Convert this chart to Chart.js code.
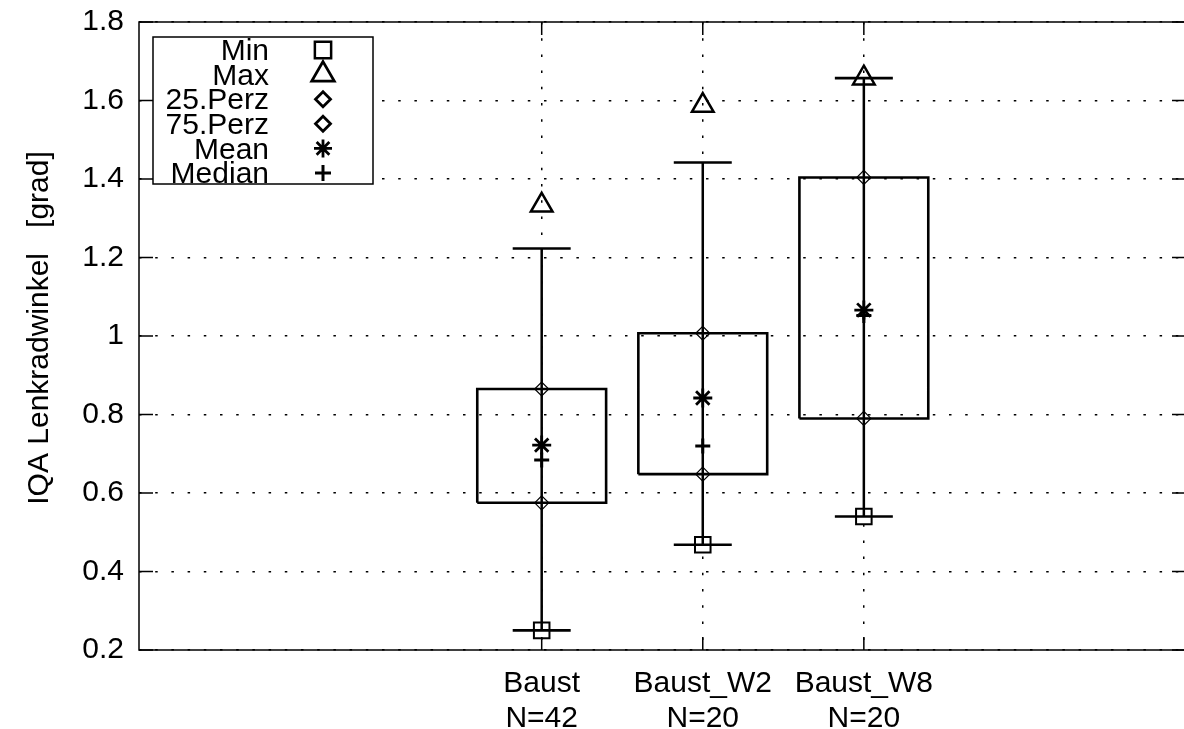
<!doctype html>
<html>
<head>
<meta charset="utf-8" />
<title>IQA Lenkradwinkel</title>
<script src="https://cdn.jsdelivr.net/npm/chart.js"></script>
<style>
  body { margin: 0; background: #fff; }
  #frame { width: 1184px; height: 729px; overflow: hidden; }
  #iqaChart { display: block; }
</style>
</head>
<body>
<div id="frame"><canvas id="iqaChart" width="1190" height="729"></canvas></div>
<script>
  // group statistics per condition
  const categories = ['Baust', 'Baust_W2', 'Baust_W8'];
  const counts = [42, 20, 20];
  const minVals = [0.25, 0.468, 0.54];
  const maxVals = [1.333, 1.587, 1.657];
  const whiskerTop = [1.223, 1.442, 1.657];
  const perz25 = [0.575, 0.648, 0.79];
  const perz75 = [0.865, 1.007, 1.404];
  const means = [0.722, 0.842, 1.066];
  const medians = [0.684, 0.72, 1.052];
  const yTicks = [0.2, 0.4, 0.6, 0.8, 1.0, 1.2, 1.4, 1.6, 1.8];
  const yTitle = 'IQA Lenkradwinkel   [grad]';

  const pos = categories.map((_, i) => i + 1);
  const BOX_HALF = 0.4;
  const CAP_HALF = 0.18;
  const FONT = { family: '"Liberation Sans", Arial, Helvetica, sans-serif', size: 30, lineHeight: 1.17 };

  // polylines, broken between groups with a null point
  const boxPts = pos.flatMap((x, i) => [
    { x: x - BOX_HALF, y: perz25[i] }, { x: x - BOX_HALF, y: perz75[i] },
    { x: x + BOX_HALF, y: perz75[i] }, { x: x + BOX_HALF, y: perz25[i] },
    { x: x - BOX_HALF, y: perz25[i] }, { x: x, y: null }
  ]);
  const whiskerPts = pos.flatMap((x, i) => [
    { x: x, y: minVals[i] }, { x: x, y: whiskerTop[i] }, { x: x, y: null }
  ]);
  const capPts = pos.flatMap((x, i) => [
    { x: x - CAP_HALF, y: minVals[i] }, { x: x + CAP_HALF, y: minVals[i] }, { x: x, y: null },
    { x: x - CAP_HALF, y: whiskerTop[i] }, { x: x + CAP_HALF, y: whiskerTop[i] }, { x: x, y: null }
  ]);

  const lineSet = (data, width) => ({
    data, showLine: true, spanGaps: false, pointRadius: 0, borderColor: '#000',
    borderWidth: width, borderJoinStyle: 'miter', tension: 0
  });
  const markerSet = (label, vals, style, r, w, lr, lw) => ({
    label, data: pos.map((x, i) => ({ x, y: vals[i] })), showLine: false,
    pointStyle: style, pointRadius: r, pointBorderWidth: w,
    pointBorderColor: '#000', pointBackgroundColor: 'rgba(0,0,0,0)',
    legendRadius: lr, legendWidth: lw
  });

  // keep the plot box fixed: drop the label overhang padding chart.js adds
  const fixBox = (s, key, size) => {
    s[key] = size;
    s.paddingTop = s.paddingBottom = s.paddingLeft = s.paddingRight = 0;
  };

  // frame with inward tick marks, plus the rotated y title
  const axesFrame = {
    id: 'axesFrame',
    beforeDatasetsDraw(chart) {
      const { ctx, chartArea: a, scales: { x, y } } = chart;
      ctx.save();
      ctx.strokeStyle = '#000';
      ctx.lineWidth = 1.5;
      ctx.strokeRect(a.left, a.top, a.right - a.left, a.bottom - a.top);
      ctx.beginPath();
      y.ticks.forEach(t => {
        const py = y.getPixelForValue(t.value);
        ctx.moveTo(a.left, py); ctx.lineTo(a.left + 14, py);
        ctx.moveTo(a.right, py); ctx.lineTo(a.right - 14, py);
      });
      x.ticks.forEach(t => {
        const px = x.getPixelForValue(t.value);
        ctx.moveTo(px, a.bottom); ctx.lineTo(px, a.bottom - 13);
        ctx.moveTo(px, a.top); ctx.lineTo(px, a.top + 13);
      });
      ctx.stroke();

      ctx.translate(40, 328);
      ctx.rotate(-Math.PI / 2);
      ctx.font = FONT.size + 'px ' + FONT.family;
      ctx.fillStyle = '#000';
      ctx.textAlign = 'center';
      ctx.textBaseline = 'middle';
      ctx.fillText(yTitle, 0, 0);
      ctx.restore();
    }
  };

  // boxed legend in the upper left corner: label right-aligned, marker to the right
  const legendPanel = {
    id: 'legendPanel',
    afterDraw(chart) {
      const ctx = chart.ctx;
      ctx.save();
      ctx.fillStyle = '#fff';
      ctx.fillRect(153, 37, 220, 147);
      ctx.strokeStyle = '#000';
      ctx.lineWidth = 1.5;
      ctx.strokeRect(153, 37, 220, 147);
      ctx.font = FONT.size + 'px ' + FONT.family;
      ctx.textAlign = 'right';
      ctx.textBaseline = 'middle';
      chart.data.datasets.filter(d => d.legendRadius).forEach((d, i) => {
        const yy = 52 + i * 24.6;
        ctx.fillStyle = '#000';
        ctx.fillText(d.label, 269, yy);
        ctx.fillStyle = 'rgba(0,0,0,0)';
        ctx.lineWidth = d.legendWidth;
        Chart.helpers.drawPoint(ctx, { pointStyle: d.pointStyle, radius: d.legendRadius, rotation: 0, borderWidth: d.legendWidth }, 323, yy - 2);
      });
      ctx.restore();
    }
  };

  new Chart(document.getElementById('iqaChart'), {
    type: 'scatter',
    data: {
      datasets: [
        lineSet(boxPts, 2.6),
        lineSet(whiskerPts, 2.5),
        lineSet(capPts, 2.6),
        markerSet('Min', minVals, 'rect', 11, 2, 11.5, 2.5),
        markerSet('Max', maxVals, 'triangle', 12.5, 2.5, 13, 2.8),
        markerSet('25.Perz', perz25, 'rectRot', 7, 1.2, 7.5, 2.8),
        markerSet('75.Perz', perz75, 'rectRot', 7, 1.2, 7.5, 2.8),
        markerSet('Mean', means, 'star', 9.5, 2.8, 9, 2.8),
        markerSet('Median', medians, 'cross', 7.5, 3, 8, 3)
      ]
    },
    options: {
      responsive: false,
      devicePixelRatio: 1,
      animation: false,
      events: [],
      layout: { autoPadding: false, padding: { top: 22, right: 4, left: 0, bottom: 0 } },
      plugins: { legend: { display: false }, tooltip: { enabled: false } },
      scales: {
        x: {
          type: 'linear',
          min: -1.5,
          max: 5,
          afterBuildTicks: s => { s.ticks = pos.map(v => ({ value: v })); },
          afterFit: s => fixBox(s, 'height', 79),
          grid: { color: '#000', lineWidth: 1.5, drawTicks: false },
          border: { display: false, dash: [2.5, 13.7] },
          ticks: {
            color: '#000', font: FONT, padding: 16, maxRotation: 0, autoSkip: false,
            callback: (v, i) => [categories[i], 'N=' + counts[i]]
          }
        },
        y: {
          min: 0.2,
          max: 1.8,
          afterBuildTicks: s => { s.ticks = yTicks.map(v => ({ value: v })); },
          afterFit: s => fixBox(s, 'width', 139),
          grid: { color: '#000', lineWidth: 1.5, drawTicks: false },
          border: { display: false, dash: [2.5, 13.7] },
          ticks: { color: '#000', font: FONT, padding: 15, callback: v => String(Number(v.toFixed(1))) }
        }
      }
    },
    plugins: [axesFrame, legendPanel]
  });
</script>
</body>
</html>
